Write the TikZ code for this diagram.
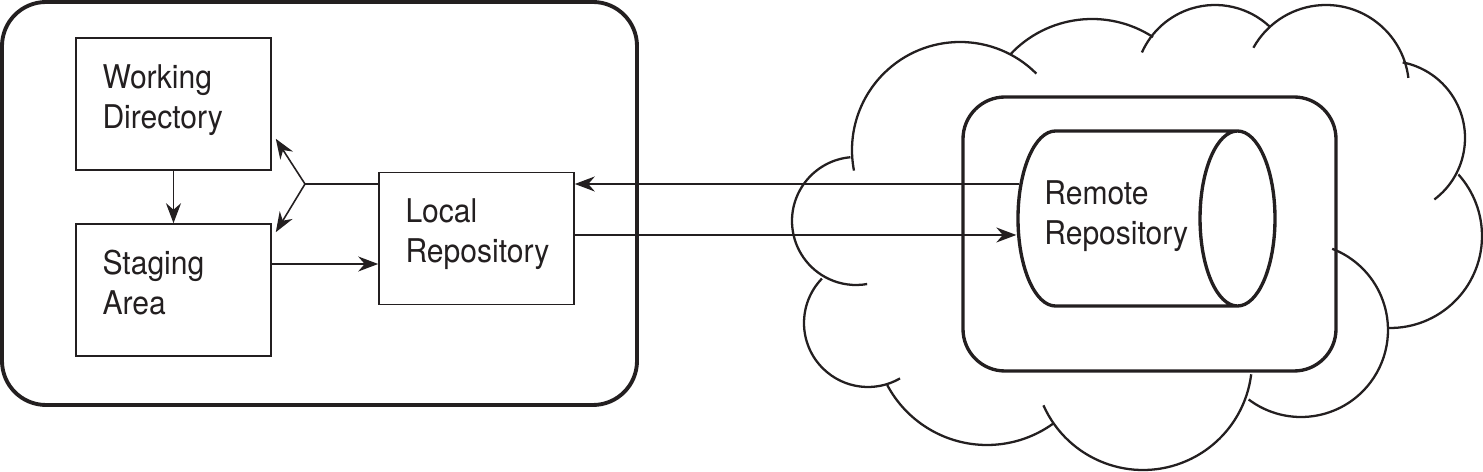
\documentclass[tikz,border=0pt]{standalone}
\usepackage{fontspec}
\setmainfont[FakeStretch=0.92]{TeX Gyre Heros}
\usetikzlibrary{shapes.geometric,arrows.meta}
\definecolor{ink}{HTML}{231F20}

\begin{document}
\begin{tikzpicture}[>={Stealth[length=4mm,width=3mm]}, color=ink,
  box/.style={draw, rectangle, line width=0.9pt, minimum width=3.9cm, minimum height=2.64cm,
    text width=2.84cm, text depth=1.1cm, align=left, font=\fontsize{18.6}{22.8}\selectfont},
  cloudline/.style={line width=1.3pt}]
\useasboundingbox (0,0) rectangle (29.66,9.44);

% local machine
\draw[line width=2.2pt, rounded corners=0.88cm] (0.04,1.34) rectangle (12.74,9.40);
\node[box] (wd) at (3.47,7.36) {Working\\Directory};
\node[box] (sa) at (3.47,3.64) {Staging\\Area};
\node[box] (lr) at (9.53,4.67) {Local\\Repository};
\coordinate (fork) at (6.10,5.76);

\draw[->, line width=0.9pt] (wd) -- (sa);
\draw[->, line width=0.9pt] ([yshift=0.52cm]sa.east) -- ([yshift=-0.51cm]lr.west);
\draw[line width=0.9pt] ([yshift=1.09cm]lr.west) -- (fork);
\draw[->, line width=0.9pt] (fork) -- ([shift={(0.08cm,0.64cm)}]wd.south east);
\draw[->, line width=0.9pt] (fork) -- ([shift={(0.08cm,-0.18cm)}]sa.north east);

% cloud
\draw[cloudline] (17.12,5.02) ++(95:1.28) arc[start angle=95, end angle=280, radius=1.28];
\draw[cloudline] (17.36,2.98) ++(136:1.28) arc[start angle=136, end angle=300, radius=1.28];
\draw[cloudline] (19.74,2.80) ++(208:2.26) arc[start angle=208, end angle=306, radius=2.26];
\draw[cloudline] (22.86,2.22) ++(204:2.18) arc[start angle=204, end angle=353, radius=2.18];
\draw[cloudline] (26.02,2.84) ++(233:1.74) arc[start angle=233, end angle=429, radius=1.74];
\draw[cloudline] (27.80,4.72) ++(-91:1.84) arc[start angle=-91, end angle=42, radius=1.84];
\draw[cloudline] (27.76,6.68) ++(-53:1.54) arc[start angle=-53, end angle=79, radius=1.54];
\draw[cloudline] (26.52,7.68) ++(7:1.66) arc[start angle=7, end angle=151, radius=1.66];
\draw[cloudline] (24.30,7.74) ++(47:1.60) arc[start angle=47, end angle=156, radius=1.60];
\draw[cloudline] (21.84,6.82) ++(57:2.24) arc[start angle=57, end angle=137, radius=2.24];
\draw[cloudline] (19.20,6.44) ++(45:2.16) arc[start angle=45, end angle=191, radius=2.16];

% remote side
\draw[line width=1.9pt, rounded corners=0.84cm] (19.26,2.02) rectangle (26.72,7.50);
\node[draw, cylinder, aspect=6.4, minimum width=3.5cm, minimum height=5.14cm,
  line width=1.9pt, anchor=shape center] (repo) at (22.93,5.07) {};
\node[anchor=north west, inner sep=0pt, align=left, font=\fontsize{18.6}{22.8}\selectfont]
  (repolbl) at (20.88,5.84) {Remote\\Repository};

\draw[->, line width=0.9pt] ([shift={(0.05cm,0.69cm)}]repo.west) -- ([yshift=1.09cm]lr.east);
\draw[->, line width=0.9pt] ([yshift=0.07cm]lr.east) -- ([yshift=-0.33cm]repo.west);
\end{tikzpicture}
\end{document}
